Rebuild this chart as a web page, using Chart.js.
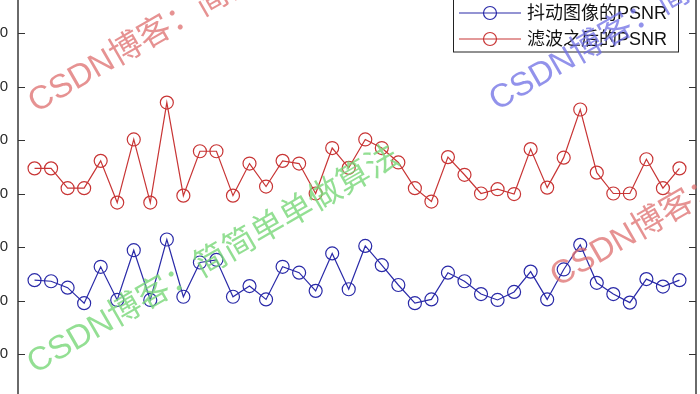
<!DOCTYPE html>
<html>
<head>
<meta charset="utf-8">
<script src="https://cdn.jsdelivr.net/npm/chart.js@4/dist/chart.umd.min.js"></script>
<style>
html, body { margin: 0; padding: 0; width: 700px; height: 394px; overflow: hidden; background: #fff; }
#wrap { position: absolute; left: -42px; top: -40px; width: 760px; height: 480px; }
</style>
</head>
<body>
<div id="wrap"><canvas id="psnrChart" width="760" height="480"></canvas></div>
<script>
// frame index on the x axis
const frames = [1,2,3,4,5,6,7,8,9,10,11,12,13,14,15,16,17,18,19,20,
                21,22,23,24,25,26,27,28,29,30,31,32,33,34,35,36,37,38,39,40];
// PSNR of the jittered images
const jitterPSNR = [23.8,23.6,22.4,19.5,26.3,20.1,29.4,20.1,31.4,20.7,
                    27.1,27.6,20.7,22.7,20.2,26.3,25.2,21.8,28.8,22.1,
                    30.2,26.6,22.9,19.5,20.2,25.2,23.6,21.2,20.1,21.6,
                    25.4,20.2,25.8,30.4,23.3,21.2,19.6,24.0,22.6,23.8];
// PSNR after filtering
const filteredPSNR = [44.7,44.7,41.0,41.0,46.1,38.3,50.1,38.3,57.0,39.6,
                      47.9,47.9,39.6,45.6,41.3,46.1,45.6,40.0,48.5,44.8,
                      50.1,48.5,45.8,41.0,38.5,46.8,43.5,40.0,40.8,39.9,
                      48.3,41.1,46.7,55.7,43.9,40.0,40.0,46.4,41.0,44.7];
const seriesNames = ['抖动图像的PSNR', '滤波之后的PSNR'];
const yTicks = [0, 10, 20, 30, 40, 50, 60, 70, 80];

const blue = '#2a2aa8';
const red = '#c83535';
const axisColor = '#6a6a6a';
const font = '"Liberation Sans", Arial, "Noto Sans CJK SC", sans-serif';

// watermark texts (page position, colour)
const marks = [
  { text: 'CSDN博客：简简单单做算法', x: 36, y: 113, color: 'rgba(222,110,110,0.75)' },
  { text: 'CSDN博客：简简单单做算法', x: 497, y: 111, color: 'rgba(110,110,228,0.75)' },
  { text: 'CSDN博客：简简单单做算法', x: 35, y: 374, color: 'rgba(120,215,120,0.8)' },
  { text: 'CSDN博客：简简单单做算法', x: 558, y: 287, color: 'rgba(222,110,110,0.75)' }
];

const toPoints = vals => vals.map((v, i) => ({ x: frames[i], y: v }));

const boxAxis = {
  id: 'boxAxis',
  afterDraw(chart) {
    const ctx = chart.ctx, y = chart.scales.y, a = chart.chartArea;
    ctx.save();
    ctx.strokeStyle = '#333';
    ctx.lineWidth = 1.2;
    y.ticks.forEach(t => {
      const py = Math.round(y.getPixelForValue(t.value)) + 0.5;
      ctx.beginPath();
      ctx.moveTo(a.left, py); ctx.lineTo(a.left + 7, py);
      ctx.moveTo(a.right, py); ctx.lineTo(a.right - 7, py);
      ctx.stroke();
    });

    // legend box, matlab style
    const bl = a.right - 243, br = a.right - 18, bt = 25, bb = 91.5;
    ctx.fillStyle = '#fff';
    ctx.fillRect(bl, bt, br - bl, bb - bt);
    ctx.strokeStyle = '#222';
    ctx.lineWidth = 1;
    ctx.strokeRect(bl + 0.5, bt + 0.5, br - bl, bb - bt);
    const rows = [53, 79];
    chart.data.datasets.forEach((ds, i) => {
      const ly = rows[i];
      ctx.strokeStyle = ds.borderColor;
      ctx.lineWidth = 1.2;
      ctx.beginPath();
      ctx.moveTo(bl + 6, ly); ctx.lineTo(bl + 68, ly);
      ctx.stroke();
      ctx.beginPath();
      ctx.arc(bl + 37, ly, 6.5, 0, Math.PI * 2);
      ctx.stroke();
      ctx.fillStyle = '#111';
      ctx.font = '18px ' + font;
      ctx.textBaseline = 'middle';
      ctx.textAlign = 'left';
      ctx.fillText(ds.label, bl + 74, ly + 1);
    });

    // watermarks
    ctx.font = '33px ' + font;
    ctx.textBaseline = 'alphabetic';
    marks.forEach(m => {
      ctx.save();
      ctx.translate(m.x + 42, m.y + 40);
      ctx.rotate(-30 * Math.PI / 180);
      ctx.fillStyle = m.color;
      ctx.fillText(m.text, 0, 0);
      ctx.restore();
    });
    ctx.restore();
  }
};

const lineStyle = color => ({
  borderColor: color,
  borderWidth: 1.2,
  pointRadius: 6.5,
  pointBorderWidth: 1.2,
  pointBorderColor: color,
  pointBackgroundColor: 'rgba(0,0,0,0)',
  tension: 0,
  fill: false
});

new Chart(document.getElementById('psnrChart'), {
  type: 'line',
  data: {
    datasets: [
      Object.assign({ label: seriesNames[0], data: toPoints(jitterPSNR) }, lineStyle(blue)),
      Object.assign({ label: seriesNames[1], data: toPoints(filteredPSNR) }, lineStyle(red))
    ]
  },
  options: {
    responsive: false,
    animation: false,
    devicePixelRatio: 1,
    layout: { padding: { left: 0, right: 22, top: 19.5, bottom: 32.5 } },
    plugins: { legend: { display: false }, tooltip: { enabled: false } },
    scales: {
      x: { type: 'linear', min: 0, max: 41, display: false },
      y: {
        type: 'linear', min: 0, max: 80,
        afterBuildTicks: s => { s.ticks = yTicks.map(v => ({ value: v })); },
        afterFit: s => { s.width = 60; },
        grid: { display: false, drawTicks: false },
        border: { display: true, color: axisColor, width: 2 },
        ticks: { padding: 10, color: '#2a2a2a', font: { family: font, size: 15 } }
      },
      y2: {
        type: 'linear', position: 'right', min: 0, max: 80,
        afterFit: s => { s.width = 0; },
        grid: { display: false, drawTicks: false },
        border: { display: true, color: axisColor, width: 2 },
        ticks: { display: false }
      }
    }
  },
  plugins: [boxAxis]
});
</script>
</body>
</html>
